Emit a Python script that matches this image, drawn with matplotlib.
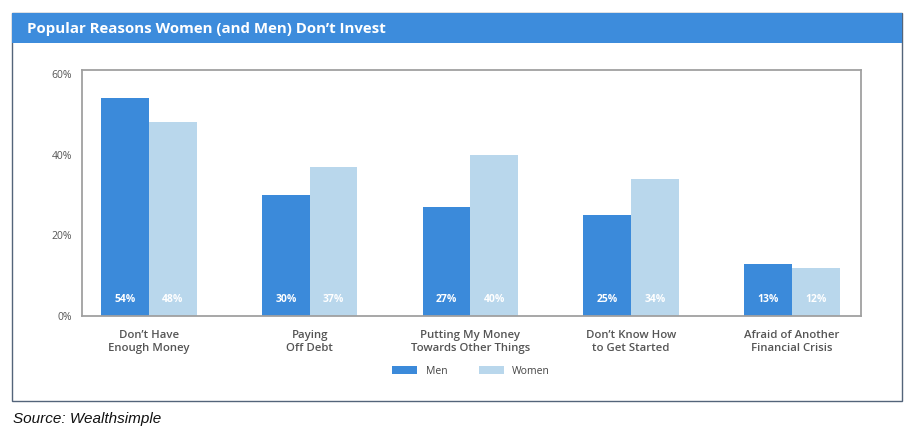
import numpy as np
import matplotlib.pyplot as plt
from matplotlib.patches import Rectangle

# -------------------- DATA --------------------
categories = ["Don\u2019t Have\nEnough Money", "Paying\nOff Debt",
              "Putting My Money\nTowards Other Things",
              "Don\u2019t Know How\nto Get Started",
              "Afraid of Another\nFinancial Crisis"]
men = [54, 30, 27, 25, 13]
women = [48, 37, 40, 34, 12]
yticks = [0, 20, 40, 60]

MEN_C = "#3b8ada"
WOMEN_C = "#b9d7ec"
W, H = 916, 436

plt.rcParams['font.family'] = ['Open Sans', 'DejaVu Sans']

fig = plt.figure(figsize=(9.16, 4.36), dpi=100)

def fx(px):
    return px / W

def fy(py):
    return 1 - py / H

# outer frame + header band
fig.patches.append(Rectangle((fx(12), fy(401)), fx(902) - fx(12), fy(13) - fy(401),
                             transform=fig.transFigure, fill=False,
                             edgecolor="#53647a", lw=1.0))
fig.patches.append(Rectangle((fx(12), fy(43)), fx(902) - fx(12), fy(13) - fy(43),
                             transform=fig.transFigure, facecolor="#3d8cdc",
                             edgecolor="none"))
fig.text(fx(27), fy(29), "Popular Reasons Women (and Men) Don\u2019t Invest",
         color="white", fontsize=10.8, fontweight="bold", va="center", ha="left")

# -------------------- CHART --------------------
ax = fig.add_axes([fx(82), fy(316), fx(861) - fx(82), fy(70) - fy(316)])
x = np.arange(len(categories))
bw = 0.297
b1 = ax.bar(x - bw / 2, men, bw, color=MEN_C, label="Men")
b2 = ax.bar(x + bw / 2, women, bw, color=WOMEN_C, label="Women")

for bars, vals in ((b1, men), (b2, women)):
    for b, v in zip(bars, vals):
        ax.text(b.get_x() + b.get_width() / 2, 4.0, f"{v}%", color="white",
                ha="center", va="center", fontsize=7.5, fontweight="bold")

ax.set_xlim(-0.417, 4.43)
ax.set_ylim(0, 61)
ax.set_yticks(yticks)
ax.set_yticklabels([f"{t}%" for t in yticks], fontsize=7.5, color="#555555")
ax.set_xticks(x)
ax.set_xticklabels(categories, fontsize=8.2, color="#555555", fontweight="semibold",
                   linespacing=1.25)
ax.tick_params(length=0)
ax.tick_params(axis="x", pad=10)
ax.tick_params(axis="y", pad=7)
for s in ax.spines.values():
    s.set_color("#a0a0a0")
    s.set_linewidth(1.3)

fig.legend(handles=[b1, b2], labels=["Men", "Women"], loc="center",
           bbox_to_anchor=(fx(471), fy(371)), ncol=2, frameon=False,
           fontsize=7.5, handlelength=2.4, handleheight=0.9,
           columnspacing=3.0, labelcolor="#444444")

fig.text(fx(13), fy(419), "Source: Wealthsimple", fontsize=11, style="italic",
         family="Liberation Sans", color="#111111", va="center", ha="left")

fig.savefig("out.png", dpi=100)
